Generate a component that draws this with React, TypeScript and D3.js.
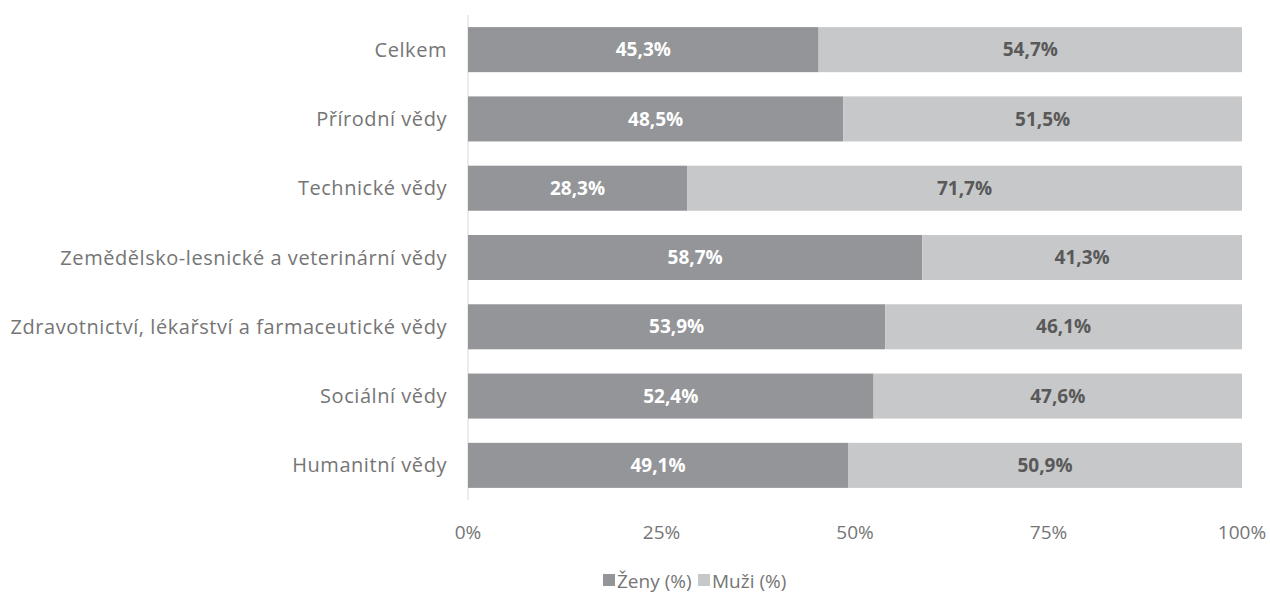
import React from "react";
import * as d3 from "d3";

const categories = [
  "Celkem",
  "Přírodní vědy",
  "Technické vědy",
  "Zemědělsko-lesnické a veterinární vědy",
  "Zdravotnictví, lékařství a farmaceutické vědy",
  "Sociální vědy",
  "Humanitní vědy",
];
const zeny = [45.3, 48.5, 28.3, 58.7, 53.9, 52.4, 49.1];
const muzi = [54.7, 51.5, 71.7, 41.3, 46.1, 47.6, 50.9];
const ticks = [0, 25, 50, 75, 100];

const FONT = "'Open Sans', sans-serif";
const ZENY_COLOR = "#939598";
const MUZI_COLOR = "#c7c8ca";
const TEXT = "#757575";
const VAL_TEXT = "#595959";

const fmt = (v: number) => v.toFixed(1).replace(".", ",") + "%";

export default function App() {
  const width = 1270;
  const height = 593;
  const x = d3.scaleLinear().domain([0, 100]).range([468, 1242]);
  const y = d3.scaleBand().domain(categories).range([15, 500]).paddingInner(0.35).paddingOuter(0.175);
  const bh = y.bandwidth();

  return (
    <svg width={width} height={height} style={{ position: "absolute", left: 0, top: 0 }} fontFamily={FONT}>
      <line x1={x(0)} x2={x(0)} y1={15} y2={500} stroke="#d9d9d9" strokeWidth={1} />
      {categories.map((c, i) => {
        const y0 = y(c)!;
        return (
          <g key={c}>
            <rect x={x(0)} y={y0} width={x(zeny[i]) - x(0)} height={bh} fill={ZENY_COLOR} />
            <rect x={x(zeny[i])} y={y0} width={x(zeny[i] + muzi[i]) - x(zeny[i])} height={bh} fill={MUZI_COLOR} />
            <text x={447} y={y0 + bh / 2} dy="0.35em" textAnchor="end" fontSize={20} letterSpacing={0.55} fill={TEXT}>
              {c}
            </text>
            <text x={(x(0) + x(zeny[i])) / 2} y={y0 + bh / 2} dy="0.35em" textAnchor="middle" fontSize={19} fontWeight="bold" fill="#ffffff">
              {fmt(zeny[i])}
            </text>
            <text x={(x(zeny[i]) + x(zeny[i] + muzi[i])) / 2} y={y0 + bh / 2} dy="0.35em" textAnchor="middle" fontSize={19} fontWeight="bold" fill={VAL_TEXT}>
              {fmt(muzi[i])}
            </text>
          </g>
        );
      })}
      {ticks.map((t) => (
        <text key={t} x={x(t)} y={532} dy="0.35em" textAnchor="middle" fontSize={19} fill={TEXT}>
          {t}%
        </text>
      ))}
      <g>
        <rect x={603} y={574} width={12} height={12} fill={ZENY_COLOR} />
        <text x={617} y={581} dy="0.35em" fontSize={19} fill={TEXT}>Ženy (%)</text>
        <rect x={698} y={574} width={12} height={12} fill={MUZI_COLOR} />
        <text x={712} y={581} dy="0.35em" fontSize={19} fill={TEXT}>Muži (%)</text>
      </g>
    </svg>
  );
}
